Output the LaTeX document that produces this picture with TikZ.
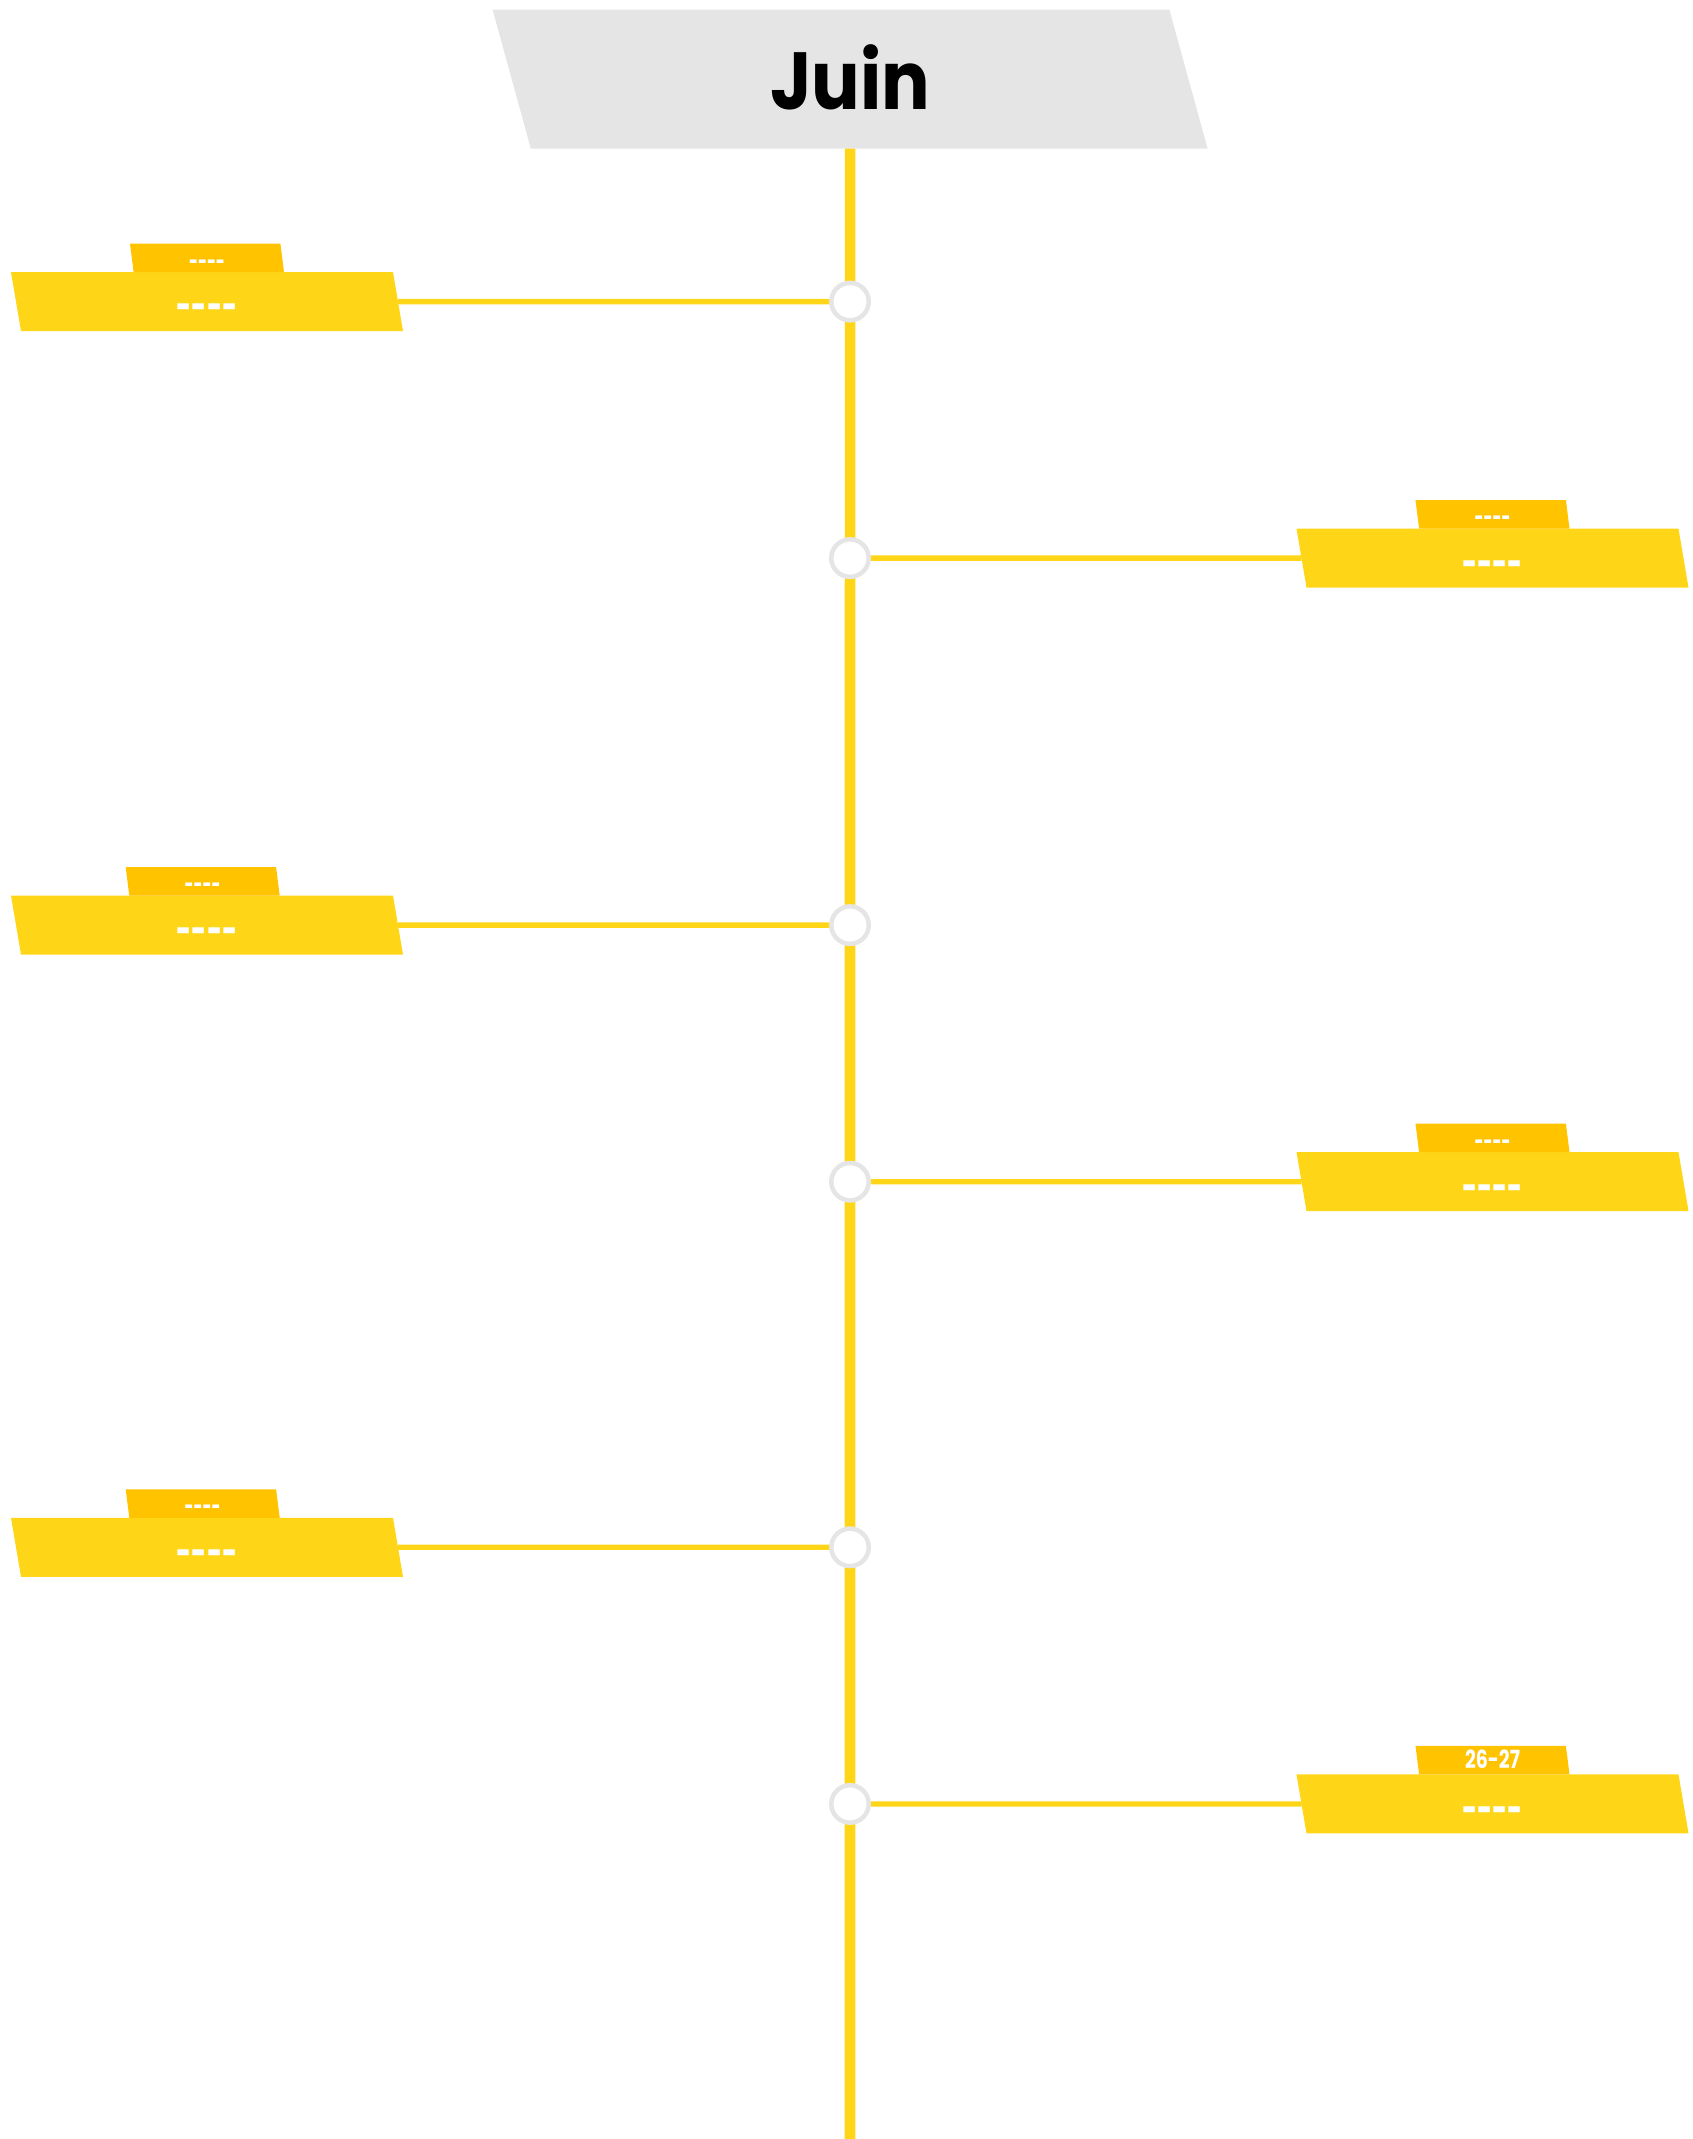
\documentclass[tikz,border=0pt]{standalone}
\usepackage{fontspec}
\setmainfont{Poppins}
\newfontfamily\titlefont{Poppins}[FakeStretch=0.89]
\newfontfamily\datefont{Poppins}[FakeStretch=0.76]
\newfontfamily\dashfont{Poppins}[FakeStretch=0.62]
\usepackage{xcolor}
\usetikzlibrary{shapes.geometric,positioning}
\definecolor{sun}{HTML}{FFD517}
\definecolor{amber}{HTML}{FFC300}
\definecolor{mist}{HTML}{E5E5E5}
\newcommand\blank{\raisebox{-0.15em}{\dashfont-\kern0pt-\kern0pt-\kern0pt-}}
\tikzset{
  spine/.style={draw=sun,line width=10.7pt},
  link/.style={draw=sun,line width=5.3pt},
  dot/.style={circle,draw=mist,fill=white,line width=4.5pt,minimum size=37.5pt,inner sep=0pt},
  skew/.style={trapezium,trapezium stretches body=true,inner sep=0pt,outer sep=0pt,text=white},
  head/.style={skew,fill=mist,text=black,minimum width=715pt,minimum height=139pt,
    trapezium left angle=122.5,trapezium right angle=57.5,
    font=\titlefont\bfseries\fontsize{81}{81}\selectfont,text height=60pt,text depth=0pt},
  slab/.style={skew,fill=sun,minimum width=392pt,minimum height=59pt,
    trapezium left angle=109.65,trapezium right angle=70.35,
    font=\bfseries\fontsize{42}{42}\selectfont,text height=28pt,text depth=0pt},
  tab/.style={skew,fill=amber,minimum width=154pt,minimum height=28.5pt,
    trapezium left angle=101.96,trapezium right angle=78.04,
    font=\datefont\bfseries\fontsize{25}{25}\selectfont,text height=17pt,text depth=0pt}
}
\begin{document}
\begin{tikzpicture}[x=1pt,y=-1pt]
  \useasboundingbox (0,0) rectangle (1692,2139);
  \node[head] (month) at (850.1,79.15) {Juin};
  \coordinate (foot) at (850,2139);
  \draw[spine] (month.south) -- (foot);
  \foreach \y/\cx/\tx/\day [count=\i] in {
      301.6/207/207/\blank,
      558.1/1492.5/1492.5/\blank,
      925.1/207/202.7/\blank,
      1181.7/1492.5/1492.5/\blank,
      1547.3/207/202.7/\blank,
      1803.9/1492.5/1492.5/26-27} {
    \node[dot] (d\i) at (850,\y) {};
    \node[slab] (s\i) at (\cx,\y) {\blank};
    \node[tab] (t\i) at (\tx,\y-43.75) {\day};
    \draw[link] (s\i) -- (d\i);
  }
\end{tikzpicture}
\end{document}
